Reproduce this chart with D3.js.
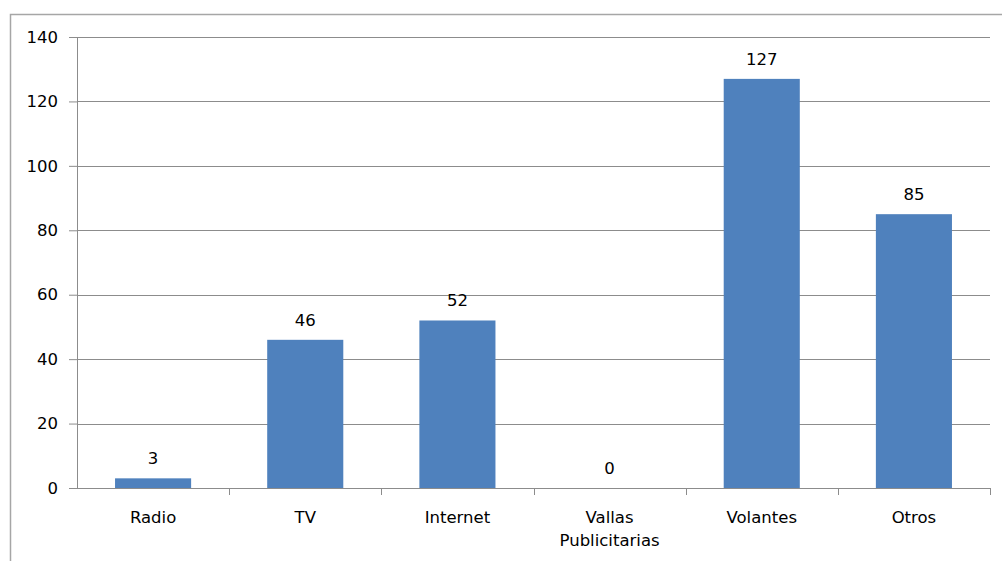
<!DOCTYPE html>
<html>
<head>
<meta charset="utf-8">
<script src="https://cdn.jsdelivr.net/npm/d3@7"></script>
<style>
  html, body { margin: 0; padding: 0; background: #fff; }
  svg { display: block; }
  text { font-family: "DejaVu Sans", sans-serif; fill: #000; }
</style>
</head>
<body>
<svg id="chart" width="1002" height="561"></svg>
<script>
const categories = ["Radio", "TV", "Internet", "Vallas\nPublicitarias", "Volantes", "Otros"];
const values = [3, 46, 52, 0, 127, 85];
const yTicks = [0, 20, 40, 60, 80, 100, 120, 140];

const FONT = "'DejaVu Sans', sans-serif";
const FS = "16.5px";

const svg = d3.select("#chart");
const W = 1002, H = 561;
const margin = { left: 77, right: 12, top: 37, bottom: 73 };
const plotW = W - margin.left - margin.right;
const plotH = H - margin.top - margin.bottom;

// outer chart frame
svg.append("rect")
  .attr("x", 10.5).attr("y", 14.5)
  .attr("width", 1010).attr("height", 600)
  .attr("fill", "#fff").attr("stroke", "#a6a6a6").attr("stroke-width", 1.5);

const g = svg.append("g").attr("transform", `translate(${margin.left},${margin.top})`);

const x = d3.scaleBand().domain(categories).range([0, plotW]).paddingInner(0.5).paddingOuter(0.25);
const xOuter = d3.scaleBand().domain(categories).range([0, plotW]);
const y = d3.scaleLinear().domain([0, 140]).range([plotH, 0]);

// horizontal gridlines
g.append("g").selectAll("line").data(yTicks.filter(d => d > 0)).join("line")
  .attr("x1", 0).attr("x2", plotW)
  .attr("y1", d => Math.round(y(d)) + 0.5).attr("y2", d => Math.round(y(d)) + 0.5)
  .attr("stroke", "#8c8c8c").attr("stroke-width", 1);

// y axis
const yAxis = g.append("g")
  .call(d3.axisLeft(y).tickValues(yTicks).tickSize(8).tickPadding(11).tickFormat(d3.format("d")));
yAxis.select(".domain").attr("stroke", "#8c8c8c");
yAxis.selectAll(".tick line").attr("stroke", "#8c8c8c");
yAxis.selectAll(".tick text").style("font-size", FS).style("font-family", FONT).attr("fill", "#000");

// x axis baseline and category dividers
const xAxisG = g.append("g").attr("transform", `translate(0,${plotH})`);
xAxisG.append("line").attr("x1", 0).attr("x2", plotW).attr("y1", 0.5).attr("y2", 0.5)
  .attr("stroke", "#8c8c8c");
xAxisG.selectAll("line.div").data(categories).join("line").attr("class", "div")
  .attr("x1", d => Math.round(xOuter(d) + xOuter.bandwidth()) + 0.5)
  .attr("x2", d => Math.round(xOuter(d) + xOuter.bandwidth()) + 0.5)
  .attr("y1", 0).attr("y2", 7)
  .attr("stroke", "#8c8c8c");

// category labels
xAxisG.selectAll("text.cat").data(categories).join("text").attr("class", "cat")
  .attr("text-anchor", "middle")
  .style("font-size", FS)
  .each(function(d) {
    const t = d3.select(this);
    d.split("\n").forEach((line, i) => {
      t.append("tspan")
        .attr("x", x(d) + x.bandwidth() / 2)
        .attr("y", 35 + i * 23)
        .text(line);
    });
  });

// bars
g.selectAll("rect.bar").data(values).join("rect").attr("class", "bar")
  .attr("x", (d, i) => x(categories[i]))
  .attr("width", x.bandwidth())
  .attr("y", d => y(d))
  .attr("height", d => plotH - y(d))
  .attr("fill", "#4f81bd");

// value labels
g.selectAll("text.val").data(values).join("text").attr("class", "val")
  .attr("x", (d, i) => x(categories[i]) + x.bandwidth() / 2)
  .attr("y", d => y(d) - 14)
  .attr("text-anchor", "middle")
  .style("font-size", FS)
  .text(d => d);
</script>
</body>
</html>
